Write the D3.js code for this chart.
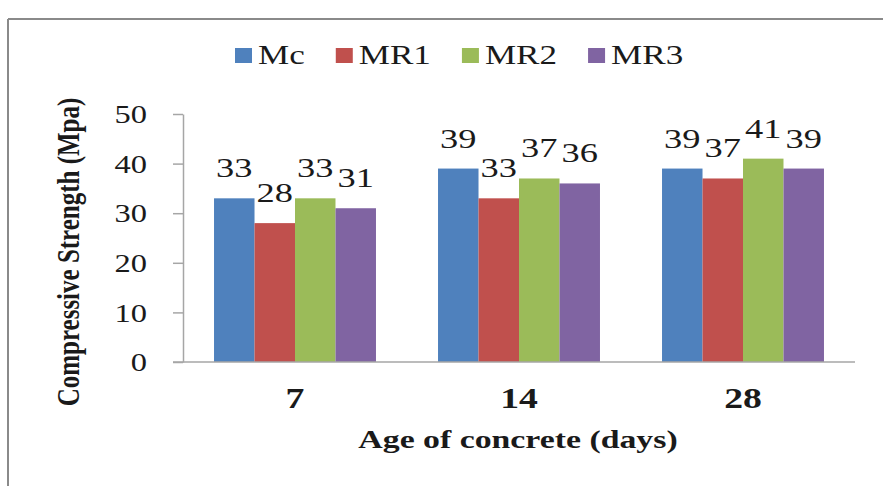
<!DOCTYPE html>
<html>
<head>
<meta charset="utf-8">
<script src="https://cdn.jsdelivr.net/npm/d3@7"></script>
<style>
  body { margin: 0; background: #fff; }
  text { font-family: "Liberation Serif", "DejaVu Serif", serif; fill: #1a1a1a; }
</style>
</head>
<body>
<div id="chart"></div>
<script>
// chart values
var ages = ["7", "14", "28"];
var seriesNames = ["Mc", "MR1", "MR2", "MR3"];
var mcValues = [33, 39, 39];
var mr1Values = [28, 33, 37];
var mr2Values = [33, 37, 41];
var mr3Values = [31, 36, 39];
var yTicks = [0, 10, 20, 30, 40, 50];
var colors = ["#4f81bd", "#c0504d", "#9bbb59", "#8064a2"];

var width = 883;
var height = 486;

// the picture is wider than it should be, text glyphs are stretched sideways
var stretch = 1.3;

var plotLeft = 183, plotRight = 855, plotTop = 114, plotBottom = 362;

var svg = d3.select("#chart")
  .append("svg")
  .attr("width", width)
  .attr("height", height);

// frame (top and left edges only are visible)
svg.append("line")
  .attr("x1", 8).attr("y1", 19).attr("x2", width).attr("y2", 19)
  .attr("stroke", "#8a8a8a").attr("stroke-width", 2);
svg.append("line")
  .attr("x1", 8).attr("y1", 19).attr("x2", 8).attr("y2", height)
  .attr("stroke", "#8a8a8a").attr("stroke-width", 2);

var allValues = [mcValues, mr1Values, mr2Values, mr3Values];

var x0 = d3.scaleBand()
  .domain(ages)
  .range([plotLeft, plotRight])
  .paddingInner(0.277)
  .paddingOuter(0.1385);

var x1 = d3.scaleBand()
  .domain(seriesNames)
  .range([0, x0.bandwidth()]);

var y = d3.scaleLinear()
  .domain([0, 50])
  .range([plotBottom, plotTop]);

// y axis
var yAxis = svg.append("g")
  .attr("transform", "translate(" + plotLeft + ",0)")
  .call(d3.axisLeft(y).tickValues(yTicks).tickSize(10).tickSizeOuter(0));
yAxis.select(".domain").attr("stroke", "#a6a6a6").attr("stroke-width", 1.5);
yAxis.selectAll(".tick line").attr("stroke", "#a6a6a6").attr("stroke-width", 1.5);
yAxis.selectAll(".tick text")
  .attr("x", null).attr("dy", "0.35em")
  .attr("transform", "translate(-36,0) scale(" + stretch + ",1)")
  .attr("text-anchor", "end")
  .style("font-family", "Liberation Serif, serif")
  .style("font-size", "25px")
  .attr("fill", "#1a1a1a");

// bars
var rows = [];
ages.forEach(function(a, i) {
  seriesNames.forEach(function(s, j) {
    rows.push({ age: a, series: s, value: allValues[j][i], color: colors[j] });
  });
});

svg.selectAll("rect.bar")
  .data(rows)
  .enter()
  .append("rect")
  .attr("class", "bar")
  .attr("x", function(d) { return x0(d.age) + x1(d.series); })
  .attr("y", function(d) { return y(d.value); })
  .attr("width", x1.bandwidth())
  .attr("height", function(d) { return y(0) - y(d.value); })
  .attr("fill", function(d) { return d.color; });

// x axis line
svg.append("line")
  .attr("x1", plotLeft - 10).attr("x2", plotRight)
  .attr("y1", y(0)).attr("y2", y(0))
  .attr("stroke", "#a6a6a6").attr("stroke-width", 1.5);

// value labels
svg.selectAll("text.val")
  .data(rows)
  .enter()
  .append("text")
  .attr("class", "val")
  .attr("text-anchor", "middle")
  .style("font-size", "28px")
  .attr("transform", function(d) {
    var cx = x0(d.age) + x1(d.series) + x1.bandwidth() / 2;
    return "translate(" + cx + "," + (y(d.value) - 21) + ") scale(" + stretch + ",1)";
  })
  .text(function(d) { return d.value; });

// category labels
svg.selectAll("text.cat")
  .data(ages)
  .enter()
  .append("text")
  .attr("class", "cat")
  .attr("text-anchor", "middle")
  .style("font-size", "29px")
  .style("font-weight", "bold")
  .attr("transform", function(d) {
    return "translate(" + (x0(d) + x0.bandwidth() / 2) + ",408) scale(" + stretch + ",1)";
  })
  .text(function(d) { return d; });

// axis titles
svg.append("text")
  .attr("text-anchor", "middle")
  .style("font-size", "26px")
  .style("font-weight", "bold")
  .attr("transform", "translate(518,448) scale(" + stretch + ",1)")
  .text("Age of concrete (days)");

svg.append("text")
  .attr("text-anchor", "middle")
  .style("font-size", "25px")
  .style("font-weight", "bold")
  .attr("transform", "translate(79,252) scale(" + stretch + ",1) rotate(-90)")
  .text("Compressive Strength (Mpa)");

// legend
var legend = svg.append("g");
var lx = 235;
seriesNames.forEach(function(s, j) {
  legend.append("rect")
    .attr("x", lx).attr("y", 48)
    .attr("width", 17).attr("height", 15)
    .attr("fill", colors[j]);
  var t = legend.append("text")
    .style("font-size", "27px")
    .attr("transform", "translate(" + (lx + 23) + ",64) scale(" + stretch + ",1)")
    .text(s);
  lx = lx + 23 + t.node().getComputedTextLength() * stretch + 31;
});
</script>
</body>
</html>
